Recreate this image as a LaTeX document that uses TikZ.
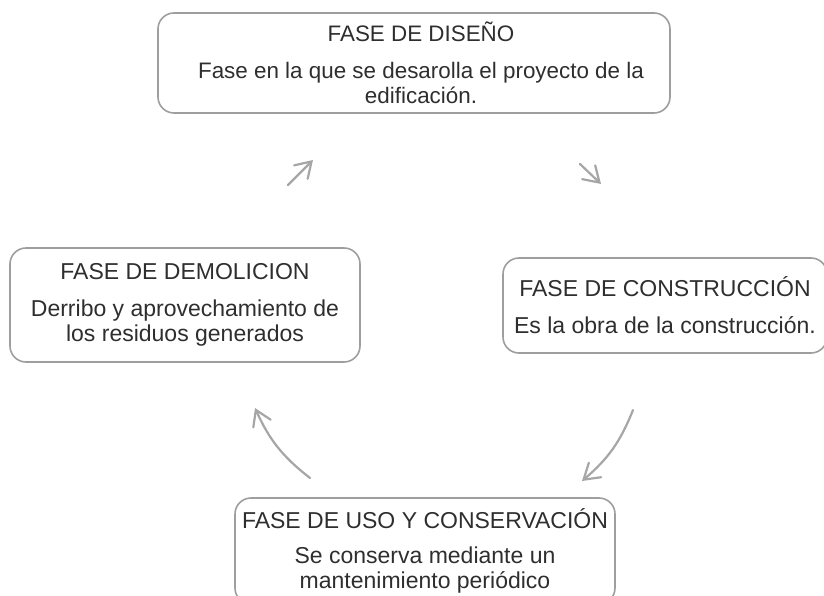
\documentclass[tikz,border=0pt]{standalone}
\usepackage{fontspec}
\setmainfont{Liberation Sans}
\usetikzlibrary{arrows.meta}
\definecolor{boxline}{HTML}{9E9E9E}
\definecolor{arrowgray}{HTML}{A6A6A6}
\definecolor{txt}{HTML}{2E2E2E}
\tikzset{
  phase/.style={draw=boxline, line width=1.6pt, rounded corners=16pt,
    align=center, text=txt, inner sep=0pt,
    font=\fontsize{23}{25}\selectfont},
  phasetext/.style={align=center, text=txt, inner sep=0pt,
    font=\fontsize{22.4}{25}\selectfont},
  cyc/.style={draw=arrowgray, line width=2.2pt, line cap=round,
    -{Straight Barb[length=15pt,width=19pt,line cap=round]}}
}
\begin{document}
\begin{tikzpicture}[x=1pt,y=1pt]
\useasboundingbox (0,0) rectangle (824,595);
\node[phase, minimum width=512pt, minimum height=100pt] (dis) at (414,532) {};
\node[phasetext] (dist) at (421,532)
  {FASE DE DISEÑO\\[12pt]Fase en la que se desarolla el proyecto de la\\edificación.};
\node[phase, minimum width=324pt, minimum height=95pt] (con) at (665,289.5)
  {FASE DE CONSTRUCCIÓN\\[12pt]Es la obra de la construcción.};
\node[phase, minimum width=380pt, minimum height=106pt] (uso) at (425,44)
  {FASE DE USO Y CONSERVACIÓN\\[10pt]Se conserva mediante un\\mantenimiento periódico};
\node[phase, minimum width=350pt, minimum height=114pt] (dem) at (185,290)
  {FASE DE DEMOLICION\\[12pt]Derribo y aprovechamiento de\\los residuos generados};
\coordinate (a1s) at (288,410);
\coordinate (a1e) at (313,435);
\coordinate (a2s) at (580,431);
\coordinate (a2e) at (601,411);
\coordinate (a3s) at (633,185);
\coordinate (a3e) at (582,114);
\coordinate (a4s) at (310,117);
\coordinate (a4e) at (255,187);
\draw[cyc] (a1s) -- (a1e);
\draw[cyc] (a2s) -- (a2e);
\draw[cyc] (a3s) to[bend left=14] (a3e);
\draw[cyc] (a4s) to[bend left=14] (a4e);
\end{tikzpicture}
\end{document}
